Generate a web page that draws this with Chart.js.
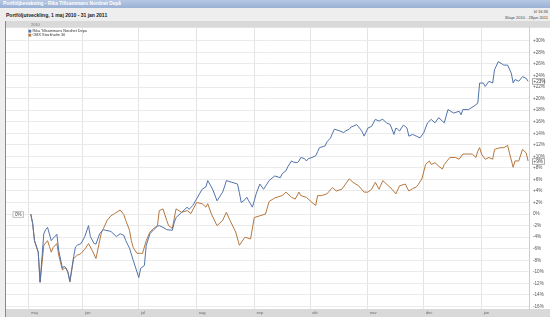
<!DOCTYPE html>
<html><head><meta charset="utf-8">
<script src="https://cdn.jsdelivr.net/npm/chart.js@4/dist/chart.umd.min.js"></script>
<style>
html,body{margin:0;padding:0;width:550px;height:317px;overflow:hidden;background:#eeeeee;font-family:"Liberation Sans",Arial,sans-serif;}
#bar{position:absolute;left:0;top:0;width:550px;height:8px;background:linear-gradient(#b6c8e3,#9ab1d5);}
#bar span{position:absolute;left:3px;top:1px;font-size:4.8px;font-weight:bold;color:#fff;line-height:6px;white-space:nowrap;}
#title{position:absolute;left:6px;top:12.3px;font-size:5px;font-weight:bold;color:#222;line-height:6px;white-space:nowrap;}
#time{position:absolute;right:2px;top:9px;font-size:4px;color:#444;line-height:5px;white-space:nowrap;}
#range{position:absolute;right:2px;top:14.5px;font-size:4px;color:#444;line-height:5px;white-space:nowrap;}
#box{position:absolute;left:5px;top:21px;width:545px;height:296px;border-left:1px solid #8a8a8a;background:#fff;}
#c{position:absolute;left:0;top:0;}
</style></head>
<body>
<div id="bar"><span>Portföljbevakning - Rika Tillsammans Nordnet Depå</span></div>
<div id="title">Portföljutveckling, 1 maj 2010 - 31 jan 2011</div>
<div id="time">kl 16:36</div>
<div id="range">30apr 2010 - 28jan 2011</div>
<div id="box"><canvas id="c" width="544" height="296"></canvas></div>
<script>
// x values are days counted from 1 May 2010
const monthTickDays = [2, 31, 61, 92, 123, 153, 184, 214, 245];
const monthLabels = ['maj', 'jun', 'jul', 'aug', 'sep', 'okt', 'nov', 'dec', 'jan'];
const yearLabel = '2010';
const seriesNames = ['Rika Tillsammans Nordnet Depå', 'OMX Stockholm 30'];

const rikaDays = [
  3,4,5,7,8,10,11,12,14,15,
  17,18,20,21,22,23,24,26,27,28,
  30,32,34,35,37,38,40,42,43,46,
  49,51,53,54,56,58,59,61,62,64,
  65,67,69,71,72,74,76,79,80,81,
  84,87,88,90,92,95,97,98,100,101,
  103,106,107,108,111,114,115,116,118,119,
  120,122,123,124,126,128,131,132,134,137,
  138,140,141,143,144,146,147,148,150,151,
  152,154,156,157,158,160,161,162,164,165,
  166,168,169,171,172,174,175,176,178,180,
  181,182,184,186,188,190,191,192,194,196,
  198,199,200,201,203,204,205,206,208,210,
  212,214,216,218,220,222,225,227,230,233,
  234,235,238,241,243,244,246,247,249,251,
  252,254,257,259,261,262,263,265,267,269,
  270
];
const rikaValues = [
  0,-1.6,-4.6,-6.6,-11.8,-3.4,-2.7,-2.3,-4.6,-4.2,
  -3.5,-6.3,-9.4,-9.0,-9.4,-10.1,-11.7,-7.4,-5.7,-5.4,
  -5.1,-3.9,-2.0,-3.9,-5.1,-5.2,-3.4,-2.7,-2.8,-3.0,
  -3.9,-3.4,-3.7,-4.6,-5.9,-8.0,-9.0,-11.0,-9.4,-8.9,
  -5.4,-3.4,-2.7,-2.1,-2.0,-2.3,-2.7,-2.8,-1.5,-0.6,
  0.3,1.2,0.8,1.5,2.6,4.3,4.7,5.8,4.7,4.0,
  2.3,3.8,4.7,5.8,5.5,5.2,3.7,2.0,2.5,2.9,
  2.3,1.2,2.3,3.5,5.2,4.3,5.8,6.1,6.6,6.3,
  7.0,7.5,8.2,9.2,9.0,8.9,9.2,9.8,9.6,9.2,
  9.6,9.8,10.1,10.8,11.5,11.7,11.8,12.5,13.2,14.0,
  14.7,14.5,14.4,14.1,14.4,14.7,15.1,15.2,15.5,14.7,
  14.2,13.5,14.9,15.2,16.4,16.1,16.3,16.4,15.8,15.5,
  13.8,14.9,14.7,14.4,15.4,15.2,14.9,13.5,13.8,13.5,
  13.2,14.1,15.8,16.4,15.8,16.7,15.8,18.1,17.5,17.8,
  17.2,18.1,18.1,18.7,19.2,22.7,22.7,22.1,23.0,22.7,
  25.0,26.4,25.8,25.8,24.4,22.7,23.3,23.0,23.8,23.5,
  23.0
];

const omxDays = [
  3,4,5,7,8,10,12,13,14,15,
  17,18,20,21,22,23,24,26,28,29,
  30,32,34,36,38,40,41,42,44,46,
  48,51,53,54,56,57,58,60,62,63,
  65,67,69,71,72,74,76,77,79,80,
  81,84,87,89,92,95,97,98,100,103,
  106,108,110,113,115,118,121,123,126,129,
  131,134,138,140,143,145,147,148,151,154,
  156,157,159,162,165,167,170,172,174,176,
  179,182,184,186,188,190,192,195,197,199,
  201,204,206,208,210,211,213,215,217,218,
  220,222,224,225,228,231,233,235,237,240,
  242,243,244,245,247,249,251,252,255,257,
  259,260,262,263,265,267,269,270
];
const omxValues = [
  0,-1.6,-4.6,-6.6,-11.8,-5.4,-4.6,-5.6,-6.6,-5.8,
  -5.1,-7.1,-9.7,-9.4,-9.4,-10.2,-11.7,-7.7,-7.1,-7.0,
  -6.8,-6.1,-5.1,-6.3,-7.7,-4.6,-3.1,-2.5,-1.1,-0.3,
  0.1,0.7,-0.1,-1.1,-2.8,-4.6,-5.8,-6.8,-6.8,-6.8,
  -4.6,-3.1,-2.5,-2.0,0.6,0.9,-1.1,-2.0,-2.5,-0.8,
  0.9,0.3,0.6,0.1,2.0,1.8,1.2,1.8,0.0,-2.0,
  -1.1,0.3,-1.1,-3.1,-5.4,-4.0,-4.3,-0.6,-0.3,0.0,
  2.2,2.8,3.2,3.8,2.9,2.6,3.8,3.2,2.9,2.0,
  1.5,3.2,3.2,3.5,4.6,4.0,4.3,5.2,6.1,5.5,
  4.9,3.8,3.8,4.3,5.5,4.3,5.8,4.9,4.3,3.5,
  4.9,5.2,4.0,4.4,4.7,5.1,6.1,8.6,9.2,8.6,
  8.9,8.3,7.8,8.6,9.8,9.8,9.5,10.4,10.4,10.4,
  9.8,10.9,11.5,10.4,9.5,9.8,9.5,11.2,11.5,11.5,
  11.9,10.6,8.1,9.2,9.2,11.2,10.6,9.2
];

const colors = ['#5273aa', '#b5773f'];
const FONT = '"Liberation Sans", Arial, sans-serif';

function pct(v) {
  const r = Math.round(v);
  return (r > 0 ? '+' : '') + r + '%';
}

const decor = {
  id: 'decor',
  beforeDraw(chart) {
    const { ctx, chartArea: ca, width, height } = chart;
    ctx.save();
    ctx.fillStyle = '#ffffff';
    ctx.fillRect(0, 0, width, height);
    ctx.fillStyle = '#d9d9d9';
    ctx.fillRect(0, 0, width, ca.top);
    ctx.fillRect(0, ca.bottom, width, height - ca.bottom);
    ctx.restore();
  },
  afterDraw(chart) {
    const { ctx, chartArea: ca, scales: { x, y } } = chart;
    ctx.save();
    ctx.font = '4px ' + FONT;
    ctx.fillStyle = '#777';
    ctx.textBaseline = 'middle';
    ctx.textAlign = 'left';
    ctx.fillText(yearLabel, x.getPixelForValue(monthTickDays[0]) + 2, ca.top / 2 + 0.3);

    ctx.font = '3.8px ' + FONT;
    seriesNames.forEach((name, i) => {
      const ly = ca.top + 3.3 + i * 4;
      ctx.fillStyle = colors[i];
      ctx.fillRect(x.getPixelForValue(monthTickDays[0]) - 0.5, ly - 1.3, 2.8, 2.8);
      ctx.fillStyle = '#333';
      ctx.fillText(name, x.getPixelForValue(monthTickDays[0]) + 3.5, ly + 0.2);
    });

    ctx.font = '4.6px ' + FONT;
    ctx.lineWidth = 0.8;
    chart.data.datasets.forEach((ds) => {
      const last = ds.data[ds.data.length - 1];
      const py = Math.round(y.getPixelForValue(last.y)) + 0.5;
      const bx = ca.right + 3.5;
      ctx.fillStyle = '#fff';
      ctx.fillRect(bx, py - 2.8, 12, 5.6);
      ctx.strokeStyle = '#9a9a9a';
      ctx.strokeRect(bx, py - 2.8, 12, 5.6);
      ctx.fillStyle = '#444';
      ctx.textAlign = 'left';
      ctx.fillText(pct(last.y), bx + 1, py + 0.2);
    });

    const sy = Math.round(y.getPixelForValue(0)) + 0.5;
    ctx.fillStyle = '#fff';
    ctx.fillRect(7, sy - 2.8, 10.5, 5.6);
    ctx.strokeStyle = '#b0b0b0';
    ctx.strokeRect(7, sy - 2.8, 10.5, 5.6);
    ctx.fillStyle = '#444';
    ctx.textAlign = 'center';
    ctx.fillText(pct(rikaValues[0]), 12.3, sy + 0.2);
    ctx.restore();
  }
};

new Chart(document.getElementById('c'), {
  type: 'line',
  data: {
    datasets: [
      { label: seriesNames[0], data: rikaDays.map((d, i) => ({ x: d, y: rikaValues[i] })),
        borderColor: colors[0], borderWidth: 1, pointRadius: 0, tension: 0, fill: false },
      { label: seriesNames[1], data: omxDays.map((d, i) => ({ x: d, y: omxValues[i] })),
        borderColor: colors[1], borderWidth: 1, pointRadius: 0, tension: 0, fill: false }
    ]
  },
  options: {
    responsive: false,
    devicePixelRatio: 1,
    animation: false,
    layout: { padding: { top: 5, left: 0, right: 0, bottom: 0 } },
    plugins: { legend: { display: false }, tooltip: { enabled: false } },
    scales: {
      x: {
        type: 'linear', position: 'bottom', min: -10.3, max: 270.5,
        afterBuildTicks: (s) => { s.ticks = monthTickDays.map(v => ({ value: v })); },
        afterFit: (s) => { s.height = 8; },
        grid: { color: '#e4e4e4', lineWidth: 1, drawTicks: false },
        border: { display: false },
        ticks: {
          autoSkip: false, maxRotation: 0, align: 'start', padding: 1.6,
          font: { size: 4, family: FONT }, color: '#666',
          callback: (v, i) => '  ' + monthLabels[i]
        }
      },
      y: {
        type: 'linear', position: 'right', min: -16.44, max: 32.27,
        afterBuildTicks: (s) => { s.ticks = s.ticks.filter(t => t.value <= 30 && t.value >= -16); },
        afterFit: (s) => { s.width = 21; },
        grid: { color: '#ebebeb', lineWidth: 1, drawTicks: false },
        border: { display: true, color: '#cfcfcf' },
        ticks: {
          stepSize: 2, includeBounds: false, padding: 4,
          font: { size: 4.6, family: FONT }, color: '#555',
          callback: (v) => pct(v)
        }
      }
    }
  },
  plugins: [decor]
});
</script>
</body></html>
